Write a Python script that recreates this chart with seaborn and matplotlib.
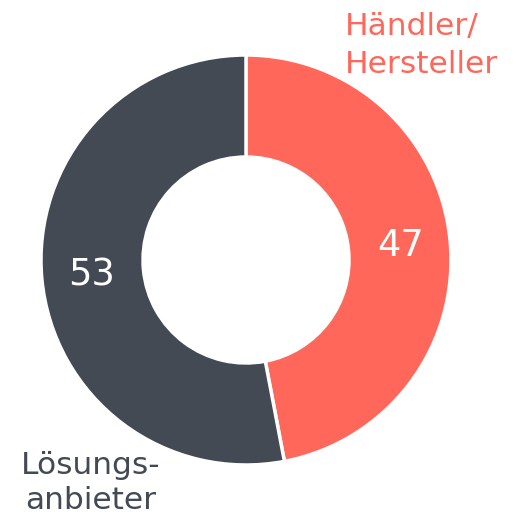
import matplotlib
matplotlib.use('Agg')
import matplotlib.pyplot as plt
import seaborn as sns

# data
categories = ['Händler/\nHersteller', 'Lösungs-\nanbieter']
values = [47, 53]
colors = ['#FF675A', '#434A54']

sns.set_theme(style='white')
plt.rcParams['font.family'] = ['DejaVu Sans']

fig = plt.figure(figsize=(5.26, 5.20), dpi=100)
ax = fig.add_axes([0, 0, 1, 1])

wedges, _, autotexts = ax.pie(
    values, colors=colors, startangle=90, counterclock=False,
    center=(246, 260), radius=205, frame=True,
    autopct=lambda p: f'{p:.0f}', pctdistance=0.756,
    wedgeprops=dict(width=102, edgecolor='white', linewidth=2.5),
    textprops=dict(color='white', fontsize=26.5),
)
ax.set_xlim(0, 526)
ax.set_ylim(0, 520)
ax.axis('off')

# outer labels (baseline of the last line, y measured from the top in pixels)
ax.text(345, 520 - 73, categories[0], color=colors[0], fontsize=22.5,
        ha='left', va='baseline', linespacing=1.4)
ax.text(91, 520 - 509, categories[1], color=colors[1], fontsize=22.5,
        ha='center', va='baseline', multialignment='center', linespacing=1.25)

fig.savefig('out.png', dpi=100)
